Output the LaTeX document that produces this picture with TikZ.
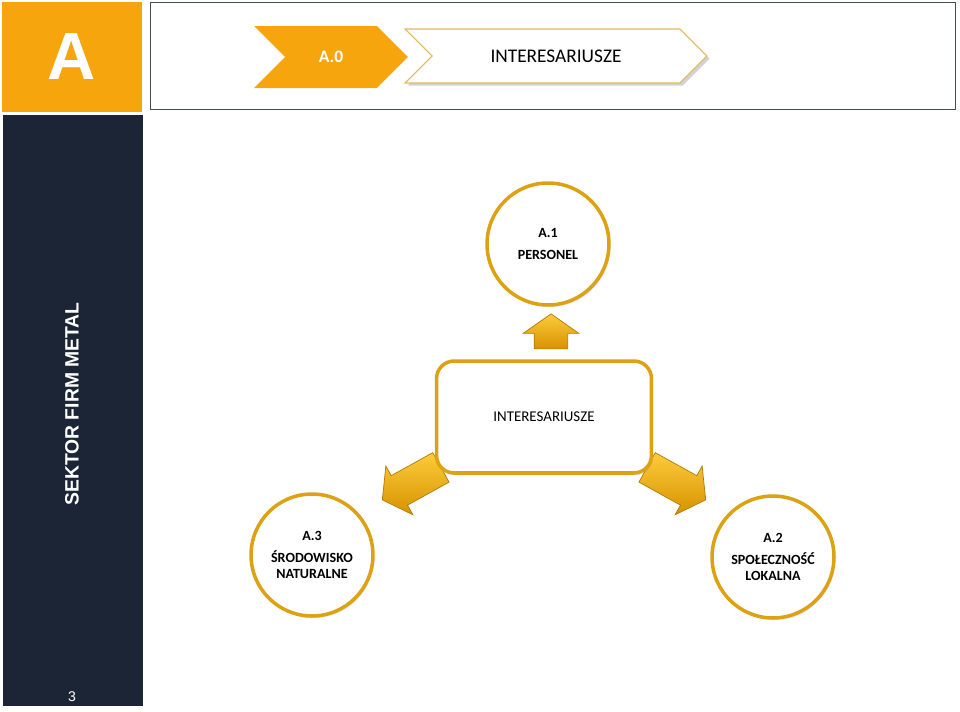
\documentclass[tikz,border=0pt]{standalone}
\usepackage{fontspec}
\setmainfont{Carlito}
\newfontfamily\arialfont{Liberation Sans}
\usetikzlibrary{positioning,calc,shapes.arrows,shapes.symbols,shadows}

\definecolor{amber}{RGB}{246,166,12}
\definecolor{navy}{RGB}{27,37,54}
\definecolor{framegray}{RGB}{70,76,86}
\definecolor{ringgold}{RGB}{220,162,20}
\definecolor{chevgold}{RGB}{222,186,90}
\definecolor{arrowtop}{RGB}{253,204,60}
\definecolor{arrowbot}{RGB}{214,146,0}
\definecolor{arrowedge}{RGB}{176,122,6}

\pgfdeclarelayer{back}
\pgfsetlayers{back,main}

\begin{document}
\begin{tikzpicture}[x=0.02cm, y=-0.02cm, every node/.style={font=\bfseries\fontsize{8}{9.5}\selectfont},
		ring/.style={circle, draw=ringgold, line width=2pt, fill=white, minimum size=2.44cm, align=center, inner sep=0pt,
			drop shadow={opacity=0.2, shadow xshift=0.8pt, shadow yshift=-1.2pt}},
		hub/.style={draw=ringgold, line width=2pt, rounded corners=10pt, fill=white, minimum width=4.3cm, minimum height=2.24cm,
			drop shadow={opacity=0.2, shadow xshift=0.8pt, shadow yshift=-1.2pt}},
		bigarrow/.style={single arrow, draw=arrowedge, line width=0.4pt, top color=arrowtop, bottom color=arrowbot,
			single arrow tip angle=110, single arrow head extend=0.22cm, inner xsep=0pt, inner ysep=0.33cm},
		chevron/.style={signal, signal to=east, signal from=west, signal pointer angle=90, inner sep=0pt}]
	\useasboundingbox (0,0) rectangle (960,711);
	% side panels
	\node[fill=amber, text=white, minimum width=2.8cm, minimum height=2.2cm, font=\arialfont\bfseries\fontsize{38}{38}\selectfont] (tab) at (72,57) {A};
	\node[fill=navy, minimum width=2.8cm, minimum height=11.82cm, anchor=north] (side) at (73,115) {};
	\node[rotate=90, text=white, font=\arialfont\bfseries\fontsize{11}{13}\selectfont] (sector) at (72,404) {SEKTOR FIRM METAL};
	\node[text=white, font=\arialfont\fontsize{8}{8}\selectfont] (page) at (72,697) {3};
	% header
	\node[draw=framegray, line width=0.8pt, minimum width=16.1cm, minimum height=2.15cm] (frame) at (553,56) {};
	\node[chevron, fill=amber, text=white, minimum width=3.08cm, minimum height=1.24cm, font=\bfseries\fontsize{10}{12}\selectfont] (a0) at (331,57) {A.0};
	\node[chevron, fill=white, draw=chevgold, line width=0.6pt, minimum width=6.04cm, minimum height=1.08cm,
		drop shadow={opacity=0.35, shadow xshift=1.5pt, shadow yshift=-1.5pt},
		font=\fontsize{11}{13}\selectfont] (title) at (556,56) {INTERESARIUSZE};
	% stakeholders
	\node[hub, font=\fontsize{8.5}{10}\selectfont] (hub) at (544,417) {INTERESARIUSZE};
	\node[ring] (a1) at (548,244) {A.1\\[3pt]PERSONEL};
	\node[ring] (a3) at (312,555) {A.3\\[3pt]ŚRODOWISKO\\NATURALNE};
	\node[ring] (a2) at (773,557) {A.2\\[3pt]SPOŁECZNOŚĆ\\LOKALNA};
	\node[bigarrow, minimum height=0.7cm, rotate=90] (up) at ($(hub.north)+(7,-22)$) {};
	\begin{pgfonlayer}{back}
		\node[bigarrow, minimum height=1.34cm, rotate=209] (left) at ($(hub.south west)+(-18,6)$) {};
		\node[bigarrow, minimum height=1.34cm, rotate=-29] (right) at ($(hub.south east)+(18,6)$) {};
	\end{pgfonlayer}
\end{tikzpicture}
\end{document}
